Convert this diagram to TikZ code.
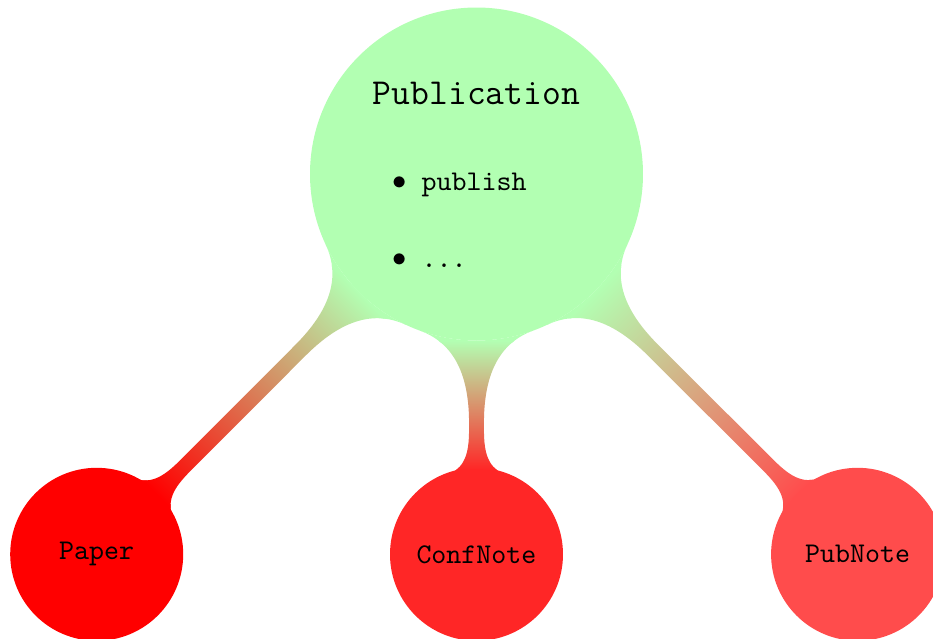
\documentclass[tikz,border=0pt]{standalone}
\usetikzlibrary{mindmap}
\begin{document}
\begin{tikzpicture}[x=0.35pt, y=-0.35pt,
  bubble/.style={circle, inner sep=0pt, outer sep=0pt, text=black},
  rootbubble/.style={bubble, minimum size=116.55pt, fill=green!30},
  leafbubble/.style={bubble, minimum size=60.55pt, outer sep=-0.6pt, font=\ttfamily\fontsize{10}{12}\selectfont},
  label/.style={inner sep=0pt, text=black},
  bodytext/.style={label, font=\ttfamily\fontsize{10}{12}\selectfont},
  bar/.style={line width=5.25pt}]
\useasboundingbox (0,0) rectangle (933,639);

% concepts
\node[rootbubble] (root) at (476.5,174) {};
\node[leafbubble, fill=red] (paper) at (96.7,554.3) {Paper};
\node[leafbubble, fill=red!85] (confnote) at (476.5,554.3) {ConfNote};
\node[leafbubble, fill=red!70] (pubnote) at (857.6,554.3) {PubNote};

% connection bars, fading from the root colour to each child colour
\path[bar] (root) to[circle connection bar switch color=from (green!30) to (red)] (paper);
\path[bar] (root) to[circle connection bar switch color=from (green!30) to (red!85)] (confnote);
\path[bar] (root) to[circle connection bar switch color=from (green!30) to (red!70)] (pubnote);

% contents of the root concept
\node[label, anchor=base, font=\ttfamily\fontsize{12.8}{15}\selectfont] (title) at (476.5,104.3) {Publication};
\node[label] (b1) at (399.3,182.7) {$\bullet$};
\node[bodytext, anchor=base west] (i1) at (421,190) {publish};
\node[label] (b2) at (399.3,260) {$\bullet$};
\node[bodytext, anchor=base west] (i2) at (421,267.3) {...};
\end{tikzpicture}
\end{document}
